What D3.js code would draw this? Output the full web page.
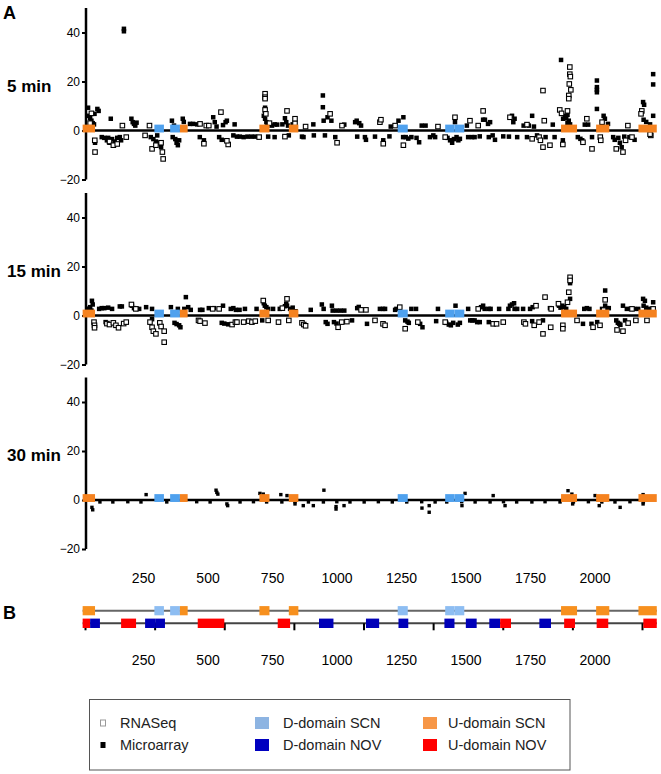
<!DOCTYPE html>
<html><head><meta charset="utf-8">
<script src="https://cdn.jsdelivr.net/npm/d3@7"></script>
<style>body{margin:0;background:#fff}svg{display:block;font-family:Arial,"Liberation Sans",sans-serif}</style>
</head><body><svg id="c" width="661" height="774"></svg>
<script>
// ---------- DATA ----------
const panelLabels = ["5 min", "15 min", "30 min"];
const xTickValues = [250, 500, 750, 1000, 1250, 1500, 1750, 2000];
const yTickValues = [-20, 0, 20, 40];
const bTickValues = [0, 250, 500, 750, 1000, 1250, 1500, 1750, 2000];

// 5 min
const micro5 = [[37,9.3],[40,6],[45,5],[50,4],[55,3],[60,2.5],[62,6.8],[64,-5],[73,8.8],[78,8],
[90,-2.7],[100,-3],[110,-4],[115,-3],[120,-5],[125,4.8],[130,-3.5],[140,-4.5],[150,-3],[160,-2.7],[165,-4],
[176,40.5],[176,41.5],[205,4.8],[210,3.4],[215,2.7],[220,2],[225,3.2],
[280,-2.7],[290,-3.5],[300,-4.5],[305,-2],[315,-5],[320,-6.8],
[362,4],[370,2],[365,-2.7],[375,-3.5],[380,-5],[385,-6],[390,-4],[404,4.8],[408,3.5],[432,2.7],[444,2.7],[460,2.5],
[470,-2.7],[486,-4],[522,5.4],[528,3.4],[535,1.6],[545,-2.7],[555,-3.8],[560,2.2],[570,3.4],[575,4],
[600,-2],[605,2.5],[614,-2.5],[625,-2.5],[640,-2.7],[655,-2.5],[670,-2.5],[684,-2.5],
[723,9.3],[718,6],[723,4.8],[728,3.4],[732,2],[735,-2.5],
[750,2],[760,2.5],[770,2.4],[760,-2.7],[790,2.5],[800,5],[805,3.4],[812,2],[815,-2],[830,2.5],
[866,-2.5],[872,-2.7],[910,2.5],[912,-2],[947,14.3],[947,9.5],[950,4],[955,-2],[965,5.4],
[980,4],[995,-2.7],[1030,2.4],[1072,3.4],[1078,4],[1088,3],[1095,2],[1080,-2.5],[1110,-2.7],[1114,-3.8],[1149,-2.5],[1181,-4],[1205,-2.4],[1210,1.6],[1240,4],[1258,-2.7],[1259,5.4],[1268,-2.7],[1278,-3.3],[1290,-2.7],[1310,-3],[1320,-4.8],[1330,2],[1345,2],[1362,-2.7],[1375,-2],[1382,-2.7],[1430,-3],[1440,-4],[1448,-5],[1455,-3.5],[1459,3.4],[1465,-2.7],[1472,-4],[1478,-3.4],[1505,2],[1510,-2.7],[1525,-2.7],[1535,-2.7],[1555,-2.4],[1568,4.4],[1575,4.4],[1587,2.7],[1595,3.4],[1590,-2.7],[1605,-2],[1614,-3.8],[1646,-2.4],[1680,6],[1685,3.4],[1690,4.8],[1668,-2.5],[1700,-2.7],[1725,2],[1738,-2.7],[1745,2],[1758,6],[1765,1.6],[1777,-2],[1810,-2.7],[1838,2.4],[1845,-2.7],
[1870,28.8],[1877,-4],[1878,4.8],[1885,6],[1890,5],[1895,6.4],[1900,4],[1895,3],[1905,2.5],
[1935,-2.7],[1945,-3.4],[1952,-4],[1962,2.4],[1975,2.4],[1990,-2.7],
[2009,20.4],[2009,17.7],[2009,16.6],[2009,15.6],[2009,8.8],[2035,6],[2040,4.8],[2052,2.7],[2072,-2.7],[2078,-3.8],[2092,-3],[2098,-5],[2105,-6.8],[2115,-2.5],[2135,-2.7],[2155,-3.8],
[2188,11.6],[2192,10.5],[2190,4.4],[2200,3.5],[2227,23],[2227,18.8],[2227,6],[2215,2.5]];
const rnaseq5 = [[64,-8.8],[63,-4],[50,7],[45,3],[120,-4.5],[135,-6],[150,-5.5],[170,2],[185,-2.7],[258,-2],[275,2],[285,-7.5],[300,-6],[325,-8.8],[328,-11.6],[320,-5],
[471,2.7],[486,-5.4],[495,2],[505,2],[552,7.5],[580,-5.7],[575,-4.2],[700,-2.7],
[723,15],[723,13.6],[723,13],[723,8.4],[726,6.8],[740,3],[808,8],[800,-2.5],[839,3],[839,4.8],[880,1.6],
[975,6.8],[1002,-5],[1021,2],[1168,3.4],[1172,4.4],[1181,-5.4],[1227,2],[1259,-6],[1393,1.6],[1421,-2.7],[1459,5.4],[1517,4],[1549,2],[1568,8],[1672,5.4],[1738,2.4],[1758,-3.4],[1785,-2.7],[1790,-4],[1800,-6.8],[1800,16.3],[1805,4],[1827,-6],[1865,8.4],[1872,7],[1877,-5.7],[1904,25.9],[1904,23],[1906,22],[1902,19],[1908,16.6],[1900,14.3],[1900,13],[1895,8],[1955,-4.8],[1970,4.8],[1990,-7.5],[2022,-2.7],[2024,-4],[2029,3.4],[2084,-7.5],[2110,-8.8],[2120,-4],[2129,2],[2145,-2.7],[2183,8],[2180,6.8],[2218,-2],[2215,-1.5]];

// 15 min
const micro15 = [[52,6],[45,3.4],[50,2],[55,4.5],[40,2.8],[80,2.7],[90,3],[100,3],[115,3.2],[130,2.7],[105,-2.7],[160,3.7],[168,3.7],[207,4],[215,3],[225,2.7],[235,2.7],[262,3.4],[285,2.7],[285,-1.5],[358,3.4],[372,-3],[380,-3.5],[390,-4],[395,-4.8],[385,2.7],[416,7.5],[410,2.7],[425,3.4],[435,2.3],[471,2.3],[480,2.3],[505,3],[525,3],[560,4],[555,-3],[565,-3.3],[580,-3.6],[590,2.7],[600,3],[610,2.3],[624,2.3],[645,2.7],[690,2.7],[718,5],[722,4],[728,3.4],[735,2.7],[712,-2],[754,2.7],[780,2.7],[800,3.8],[805,4.8],[808,4],[820,2.7],[830,3.2],[900,2.3],[943,4.5],[950,2.7],[958,-2.7],[965,-3.4],
[982,4],[985,2],[1000,2],[1015,2],[1030,2],[990,-2.7],[1000,-3.3],[1060,-2],[1080,3],[1086,3.5],[1118,-3.4],[1168,2.7],[1180,2.7],[1188,2.7],[1227,2.3],[1232,2.7],[1266,-2],[1275,-2.5],[1280,-3],[1290,2.7],[1308,2.7],[1324,-3.4],[1333,-4.8],[1386,-2.3],[1393,2.7],[1425,-3],[1435,-3.7],[1443,-4],[1452,-3],[1461,4],[1470,-3.7],[1478,-3],[1510,2.7],[1518,-2],[1526,-2],[1535,-2],[1545,-2.7],[1555,-2.7],[1560,3.4],[1568,4],[1574,2.7],[1590,2.7],[1597,2.7],[1590,-2.7],[1630,2.7],[1672,4],[1680,4.5],[1688,5],[1666,2.7],[1690,2.7],[1700,2.7],[1723,2.7],[1750,2.7],[1760,3.4],[1758,-2.3],[1800,-2],[1827,3],[1862,4],[1868,3.2],[1875,4],[1882,3.4],[1890,2.7],[1905,13.2],[1905,6.8],[1955,-3.4],[1960,2.7],[1970,3],[1980,2.7],[1988,-3.4],[2010,-2.7],[2029,2.7],[2041,10.2],[2041,4],[2048,3],[2055,3],[2084,-2],[2090,-3],[2096,-3.4],[2100,-3.8],[2110,4],[2118,-2],[2125,2.7],[2140,2.7],[2153,2.7],[2169,2.7],[2188,6.8],[2195,6],[2190,4],[2200,3.2],[2212,2.7],[2227,5.4],[2222,2.7]];
const rnaseq15 = [[60,-2.7],[62,-4],[62,-5],[110,-3.3],[120,-3.7],[135,-3],[145,-4],[155,-5],[175,-3.3],[185,-2.7],[205,4.5],[222,2.7],[277,-2.7],[285,-4.8],[290,-6.4],[300,-7.5],[315,-3],[320,-4.5],[332,-6.4],[332,-10.9],[465,-2],[471,-2.3],[490,-3.1],[520,2.7],[545,2.7],[595,-3.7],[608,-2.7],[614,-2.7],[640,-2.7],[660,-2.3],[672,-2.7],[685,-2.3],[716,6.1],[735,-2],[775,-2.7],[790,3],[808,6.8],[815,-2],[839,1.5],[866,-3],[873,-3.7],[880,-4.2],
[1006,-4.8],[1020,-2.7],[1040,-2.5],[1095,2.3],[1114,2.3],[1149,-2],[1180,-3.4],[1188,-4],[1245,3.4],[1266,-5.4],[1315,-2.7],[1421,-2.7],[1549,2.7],[1607,-3.4],[1620,-3.4],[1646,-2.7],[1726,-2.7],[1732,-3.4],[1766,-4],[1773,4],[1785,-2.7],[1800,-7.5],[1808,7.5],[1832,2.7],[1830,-4.8],[1860,4.8],[1877,-4],[1877,-5.4],[1905,15.6],[1905,14.3],[1900,9.5],[1895,5.4],[1932,-2],[1994,-4.8],[2021,-4],[2035,2.2],[2041,6.4],[2087,-5.9],[2110,-6.4],[2130,-3.1],[2145,2.7],[2160,-2],[2203,-2],[2227,2.7]];

// 30 min
const micro30 = [[52,-3],[55,-4],[262,2.2],[533,4],[536,3.1],[540,2.4],[575,-1.6],[578,-2.3],[703,2.7],[716,2.4],[784,2.2],[808,1.8],[839,-1.6],[871,-2.3],[910,-2.3],[951,4],[998,-2.7],[998,-3.7],[1029,-2.3],[1331,-3.3],[1359,-2.3],[1359,-5],[1486,-2.3],[1498,2.7],[1607,1.8],[1653,-2.3],[1897,3.8],[1912,2.4],[1915,-1.6],[2002,1.8],[2018,-2.3],[2099,-3],[2188,2.2],[2188,-1.6],
[83,-0.8],[133,-0.8],[191,-0.7],[242,-0.8],[342,-0.8],[458,-0.7],[510,-0.8],[626,-0.8],[678,-0.7],[729,-0.8],[788,-0.8],[839,-0.7],[891,-0.8],[949,-0.8],[1001,-0.7],[1052,-0.8],[1107,-0.8],[1162,-0.7],[1216,-0.8],[1272,-0.8],[1330,-0.7],[1382,-0.8],[1427,-0.8],[1485,-0.7],[1537,-0.8],[1595,-0.8],[1647,-0.7],[1698,-0.8],[1757,-0.8],[1808,-0.7],[1866,-0.8],[1918,-0.8],[1976,-0.7],[2028,-0.8],[2079,-0.8],[2137,-0.7],[2189,-0.8]];
const rnaseq30 = [];

// Domains: [start, end, type]  U = U-domain, D = D-domain
const scnDomains = [[16,64,"U"],[294,331,"D"],[355,393,"D"],[393,423,"U"],[701,740,"U"],[815,852,"U"],[1237,1276,"D"],[1421,1457,"D"],[1457,1495,"D"],[1870,1932,"U"],[2006,2057,"U"],[2170,2241,"U"]];
const novDomains = [[16,45,"U"],[45,83,"D"],[165,223,"U"],[258,297,"D"],[297,335,"D"],[462,565,"U"],[772,820,"U"],[932,988,"D"],[1114,1165,"D"],[1240,1278,"D"],[1418,1457,"D"],[1501,1543,"D"],[1592,1634,"D"],[1634,1676,"U"],[1786,1831,"D"],[1882,1924,"U"],[2008,2053,"U"],[2189,2241,"U"]];

const legendLabels = ["RNASeq","Microarray","D-domain SCN","D-domain NOV","U-domain SCN","U-domain NOV"];

// ---------- DRAW ----------
const svg = d3.select("#c");
const x = d3.scaleLinear().domain([29, 2238]).range([86, 656]);
const panelTops = [8, 193, 377.5];
const panelH = 171.5;
const panels = [
  {label: panelLabels[0], micro: micro5, rna: rnaseq5, size: 4.5},
  {label: panelLabels[1], micro: micro15, rna: rnaseq15, size: 4.5},
  {label: panelLabels[2], micro: micro30, rna: rnaseq30, size: 3.4}
];
const colA = {U: "#f5821f", D: "#4fa1ee"};

panels.forEach((p, i) => {
  const top = panelTops[i];
  const y = d3.scaleLinear().domain([-20, 50]).range([top + panelH, top]);
  const g = svg.append("g");
  const ax = g.append("g").attr("transform", `translate(${x.range()[0]},0)`)
    .call(d3.axisLeft(y).tickValues(yTickValues).tickSize(4).tickPadding(2).tickFormat(d3.format("d")));
  ax.select(".domain").attr("stroke", "#000").attr("stroke-width", 2.5).attr("d", `M0,${y(50)}V${y(-20)}`);
  ax.selectAll(".tick line").attr("stroke", "#000").attr("stroke-width", 2);
  ax.selectAll(".tick text").attr("font-size", 12).attr("font-family", "Arial, 'Liberation Sans', sans-serif").attr("fill", "#000");
  g.append("text").attr("x", 7).attr("y", y(20) + 10).attr("font-size", 17).attr("font-weight", "bold").text(p.label);
  const s = p.size;
  g.append("g").selectAll("rect").data(p.micro).join("rect")
    .attr("x", d => x(d[0]) - s/2).attr("y", d => y(d[1]) - s/2).attr("width", s).attr("height", s).attr("fill", "#000");
  g.append("g").selectAll("rect").data(p.rna).join("rect")
    .attr("x", d => x(d[0]) - s/2).attr("y", d => y(d[1]) - s/2).attr("width", s).attr("height", s)
    .attr("fill", "#fff").attr("stroke", "#000").attr("stroke-width", 1.1);
  g.append("line").attr("x1", x.range()[0]).attr("x2", x.range()[1]).attr("y1", y(0)).attr("y2", y(0))
    .attr("stroke", "#000").attr("stroke-width", 2.5);
  g.append("g").selectAll("rect").data(scnDomains).join("rect")
    .attr("x", d => x(d[0])).attr("width", d => x(d[1]) - x(d[0]))
    .attr("y", y(2.4)).attr("height", y(-0.8) - y(2.4)).attr("fill", d => colA[d[2]]);
});

// x labels for A
const xAx = svg.append("g").attr("transform", "translate(0,573)")
  .call(d3.axisBottom(x).tickValues(xTickValues).tickSize(0).tickPadding(0).tickFormat(d3.format("d")));
xAx.select(".domain").remove();
xAx.selectAll("text").attr("font-size", 14).attr("font-family", "Arial, 'Liberation Sans', sans-serif").attr("fill", "#000");

// Panel letters
svg.append("text").attr("x", 3).attr("y", 19).attr("font-size", 18).attr("font-weight", "bold").text("A");
svg.append("text").attr("x", 3).attr("y", 619).attr("font-size", 18).attr("font-weight", "bold").text("B");

// Panel B
const rowSCN = 610.7, rowNOV = 623.3;
const colSCN = {U: "#f7901e", D: "#8dbdf2"};
const colNOV = {U: "#ff0000", D: "#0000b8"};
svg.append("line").attr("x1", x(16)).attr("x2", x(2241)).attr("y1", rowSCN).attr("y2", rowSCN).attr("stroke", "#666").attr("stroke-width", 2);
svg.append("g").selectAll("rect").data(scnDomains).join("rect")
  .attr("x", d => x(d[0])).attr("width", d => x(d[1]) - x(d[0])).attr("y", rowSCN - 4.6).attr("height", 9.2)
  .attr("fill", d => colSCN[d[2]]);
svg.append("line").attr("x1", x(16)).attr("x2", x(2241)).attr("y1", rowNOV).attr("y2", rowNOV).attr("stroke", "#444").attr("stroke-width", 2);
const xb = d3.scaleLinear().domain([0, 2000]).range([85, 642]);
const bAx = svg.append("g").attr("transform", `translate(0,${rowNOV})`)
  .call(d3.axisBottom(xb).tickValues(bTickValues).tickSize(7).tickFormat(""));
bAx.select(".domain").remove();
bAx.selectAll(".tick line").attr("stroke", "#000").attr("stroke-width", 2);
svg.append("g").selectAll("rect").data(novDomains).join("rect")
  .attr("x", d => x(d[0])).attr("width", d => x(d[1]) - x(d[0])).attr("y", rowNOV - 4.7).attr("height", 9.4)
  .attr("fill", d => colNOV[d[2]]);

// x labels for B
const xAxB = svg.append("g").attr("transform", "translate(0,655)")
  .call(d3.axisBottom(x).tickValues(xTickValues).tickSize(0).tickPadding(0).tickFormat(d3.format("d")));
xAxB.select(".domain").remove();
xAxB.selectAll("text").attr("font-size", 14).attr("font-family", "Arial, 'Liberation Sans', sans-serif").attr("fill", "#000");

// Legend
const lg = svg.append("g");
lg.append("rect").attr("x", 89.5).attr("y", 699.5).attr("width", 480.5).attr("height", 70.5).attr("fill", "none").attr("stroke", "#555").attr("stroke-width", 1);
const legCols = [103, 262, 430];
const legTextX = [120, 283, 448];
const legRows = [723, 745];
const legendSym = [
  {fill: "#fff", stroke: "#999", w: 5, h: 6},
  {fill: "#000", stroke: "none", w: 5, h: 6},
  {fill: "#8db4e2", stroke: "none", w: 14, h: 12},
  {fill: "#0000c0", stroke: "none", w: 14, h: 12},
  {fill: "#f79646", stroke: "none", w: 14, h: 12},
  {fill: "#ff0000", stroke: "none", w: 14, h: 12}
];
legendLabels.forEach((t, i) => {
  const c = Math.floor(i / 2), r = i % 2;
  const sym = legendSym[i];
  lg.append("rect").attr("x", legCols[c] - sym.w / 2).attr("y", legRows[r] - sym.h / 2).attr("width", sym.w).attr("height", sym.h)
    .attr("fill", sym.fill).attr("stroke", sym.stroke);
  lg.append("text").attr("x", legTextX[c]).attr("y", legRows[r] + 5).attr("font-size", 14.5).attr("fill", "#222").text(t);
});
</script></body></html>
